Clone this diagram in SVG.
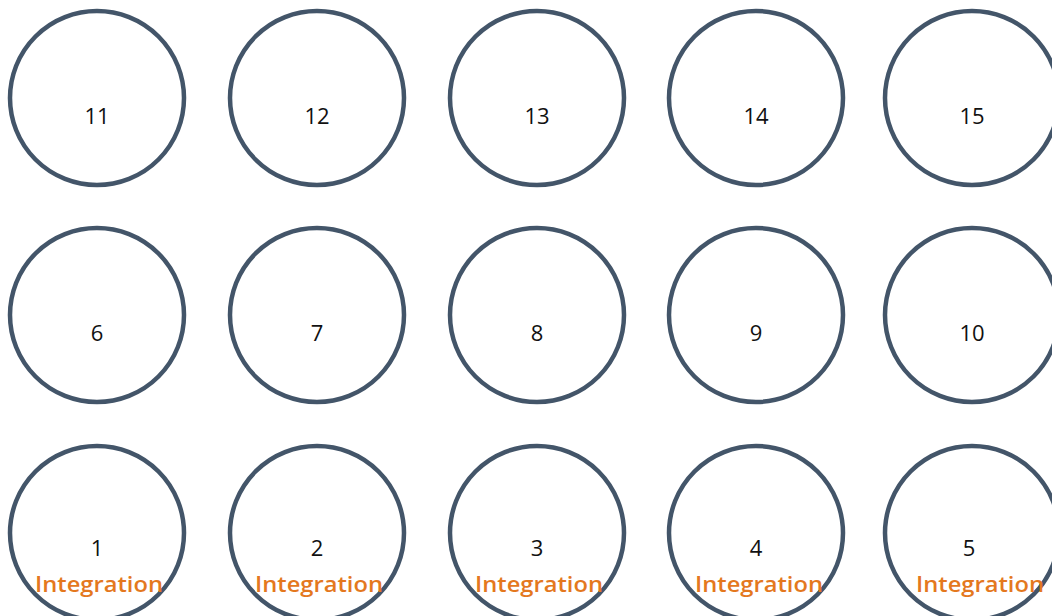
<svg xmlns="http://www.w3.org/2000/svg" width="1052" height="616" viewBox="0 0 1052 616">
<style>
.c{fill:#ffffff;stroke:#435569;stroke-width:4.5}
.n{font-family:"Open Sans","Liberation Sans",sans-serif;font-size:22px;fill:#111111;text-anchor:middle}
.i{font-family:"Open Sans","Liberation Sans",sans-serif;font-size:21px;font-weight:600;fill:#e4781e;text-anchor:middle}
</style>
<rect width="1052" height="616" fill="#ffffff"/>
<g id="connectors"></g>
<g id="node11"><circle class="c" cx="97" cy="98" r="87"/><text class="n" x="97" y="124">11</text></g>
<g id="node12"><circle class="c" cx="317" cy="98" r="87"/><text class="n" x="317" y="124">12</text></g>
<g id="node13"><circle class="c" cx="537" cy="98" r="87"/><text class="n" x="537" y="124">13</text></g>
<g id="node14"><circle class="c" cx="756" cy="98" r="87"/><text class="n" x="756" y="124">14</text></g>
<g id="node15"><circle class="c" cx="972" cy="98" r="87"/><text class="n" x="972" y="124">15</text></g>
<g id="node6"><circle class="c" cx="97" cy="315" r="87"/><text class="n" x="97" y="341">6</text></g>
<g id="node7"><circle class="c" cx="317" cy="315" r="87"/><text class="n" x="317" y="341">7</text></g>
<g id="node8"><circle class="c" cx="537" cy="315" r="87"/><text class="n" x="537" y="341">8</text></g>
<g id="node9"><circle class="c" cx="756" cy="315" r="87"/><text class="n" x="756" y="341">9</text></g>
<g id="node10"><circle class="c" cx="972" cy="315" r="87"/><text class="n" x="972" y="341">10</text></g>
<g id="node1"><circle class="c" cx="97" cy="533" r="87"/><text class="n" x="97" y="556">1</text><text class="i" x="99" y="592" textLength="128" lengthAdjust="spacingAndGlyphs">Integration</text></g>
<g id="node2"><circle class="c" cx="317" cy="533" r="87"/><text class="n" x="317" y="556">2</text><text class="i" x="319" y="592" textLength="128" lengthAdjust="spacingAndGlyphs">Integration</text></g>
<g id="node3"><circle class="c" cx="537" cy="533" r="87"/><text class="n" x="537" y="556">3</text><text class="i" x="539" y="592" textLength="128" lengthAdjust="spacingAndGlyphs">Integration</text></g>
<g id="node4"><circle class="c" cx="756" cy="533" r="87"/><text class="n" x="756" y="556">4</text><text class="i" x="759" y="592" textLength="128" lengthAdjust="spacingAndGlyphs">Integration</text></g>
<g id="node5"><circle class="c" cx="972" cy="533" r="87"/><text class="n" x="969" y="556">5</text><text class="i" x="980" y="592" textLength="128" lengthAdjust="spacingAndGlyphs">Integration</text></g>
</svg>
